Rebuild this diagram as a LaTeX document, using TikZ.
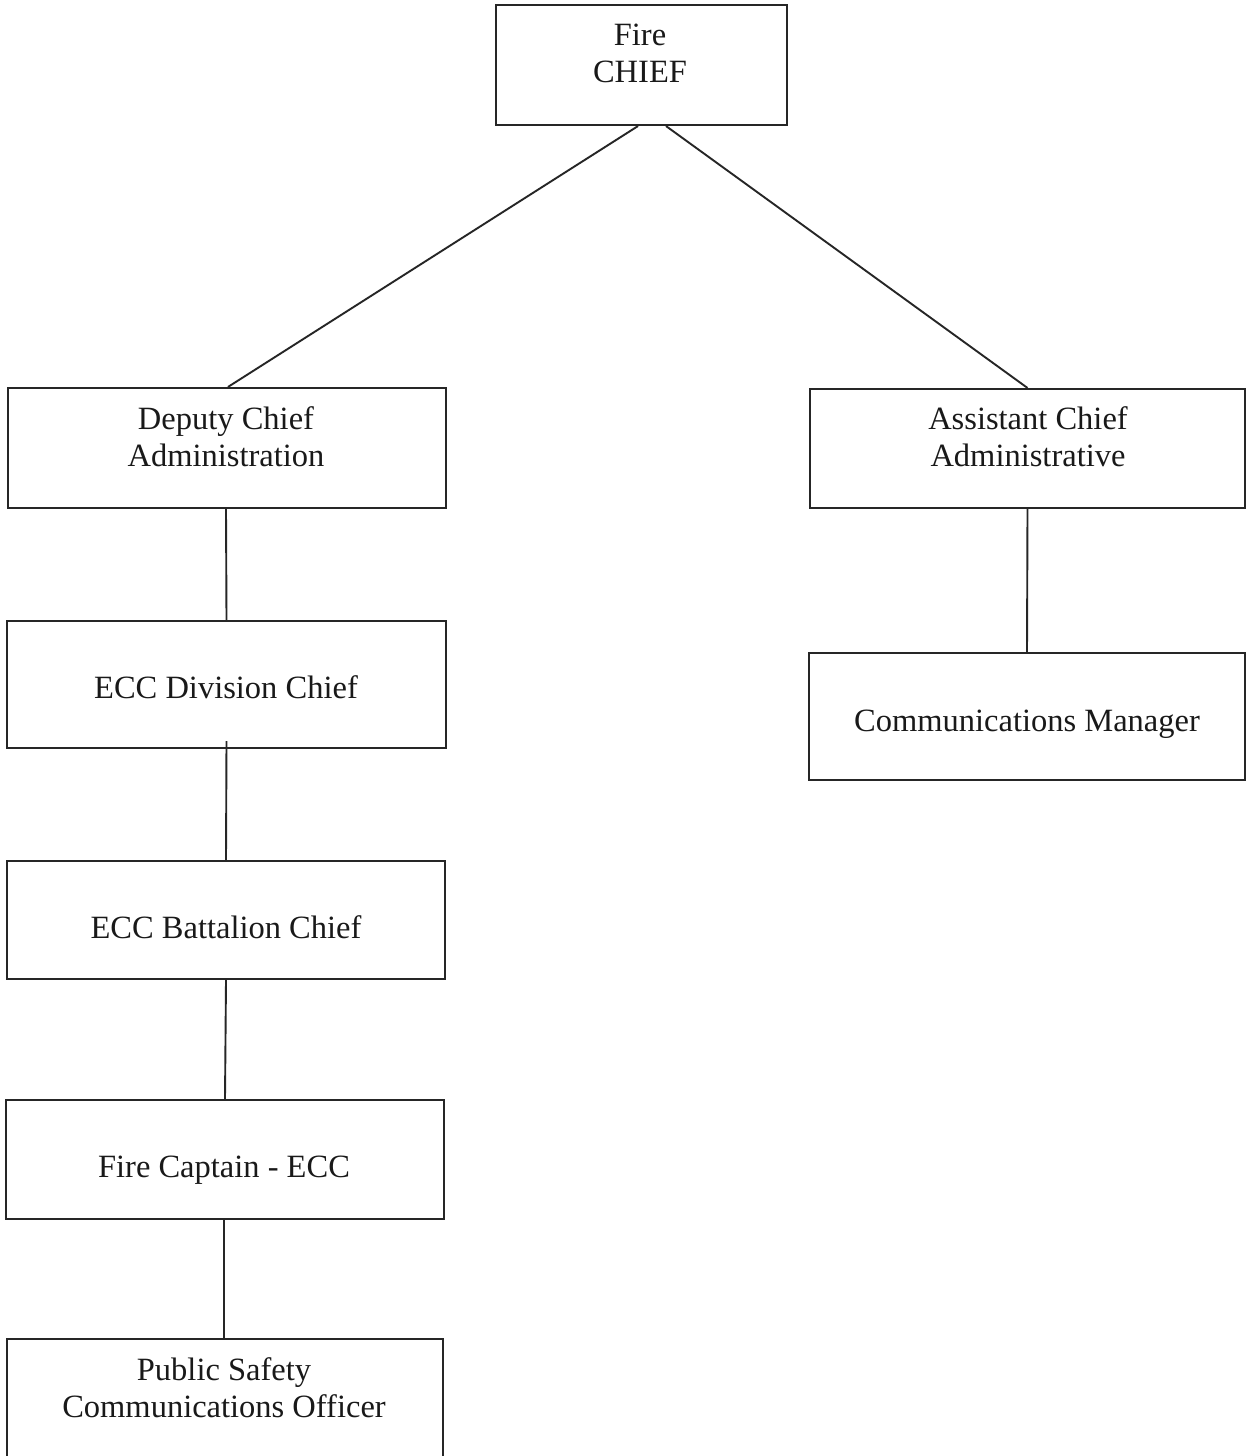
\documentclass[tikz,border=0pt]{standalone}
\usepackage{fontspec}
\setmainfont{Liberation Serif}
\begin{document}
\begin{tikzpicture}[x=1pt,y=-1pt,
  box/.style={draw=black!85, line width=2.1pt, inner sep=0pt},
  lbl/.style={font=\fontsize{32.5}{37}\selectfont, align=center, inner sep=0pt, text=black!90},
  conn/.style={draw=black!85, line width=1.9pt}]
\useasboundingbox (0,0) rectangle (1247,1456);
% boxes
\node[box, minimum width=291pt, minimum height=120pt] (chief) at (641.5,65) {};
\node[box, minimum width=438pt, minimum height=120pt] (deputy) at (227,448) {};
\node[box, minimum width=435pt, minimum height=119pt] (assist) at (1027.5,448.5) {};
\node[box, minimum width=439pt, minimum height=127pt] (div) at (226.5,684.5) {};
\node[box, minimum width=436pt, minimum height=127pt] (mgr) at (1027,716.5) {};
\node[box, minimum width=438pt, minimum height=118pt] (bat) at (226,920) {};
\node[box, minimum width=438pt, minimum height=119pt] (capt) at (225,1159.5) {};
\node[box, minimum width=436pt, minimum height=140pt] (psco) at (225,1409) {};
% texts
\node[lbl] (tchief) at (640,53) {Fire\\CHIEF};
\node[lbl] (tdeputy) at (226,437) {Deputy Chief\\Administration};
\node[lbl] (tassist) at (1028,437) {Assistant Chief\\Administrative};
\node[lbl, anchor=base] (tdiv) at (226,698) {ECC Division Chief};
\node[lbl, anchor=base] (tmgr) at (1027,731) {Communications Manager};
\node[lbl, anchor=base] (tbat) at (226,938) {ECC Battalion Chief};
\node[lbl, anchor=base] (tcapt) at (224,1177) {Fire Captain - ECC};
\node[lbl] (tpsco) at (224,1388) {Public Safety\\Communications Officer};
% connectors
\draw[conn] ([xshift=-3.5pt]chief.south) -- ([xshift=1pt]deputy.north);
\draw[conn] ([xshift=24.5pt]chief.south) -- (assist.north);
\draw[conn] ([xshift=-1pt]deputy.south) -- (div.north);
\draw[conn] ([yshift=8pt]div.south) -- (bat.north);
\draw[conn] (bat.south) -- (capt.north);
\draw[conn] ([xshift=-1pt]capt.south) -- ([xshift=-1pt]psco.north);
\draw[conn] (assist.south) -- (mgr.north);
\end{tikzpicture}
\end{document}
